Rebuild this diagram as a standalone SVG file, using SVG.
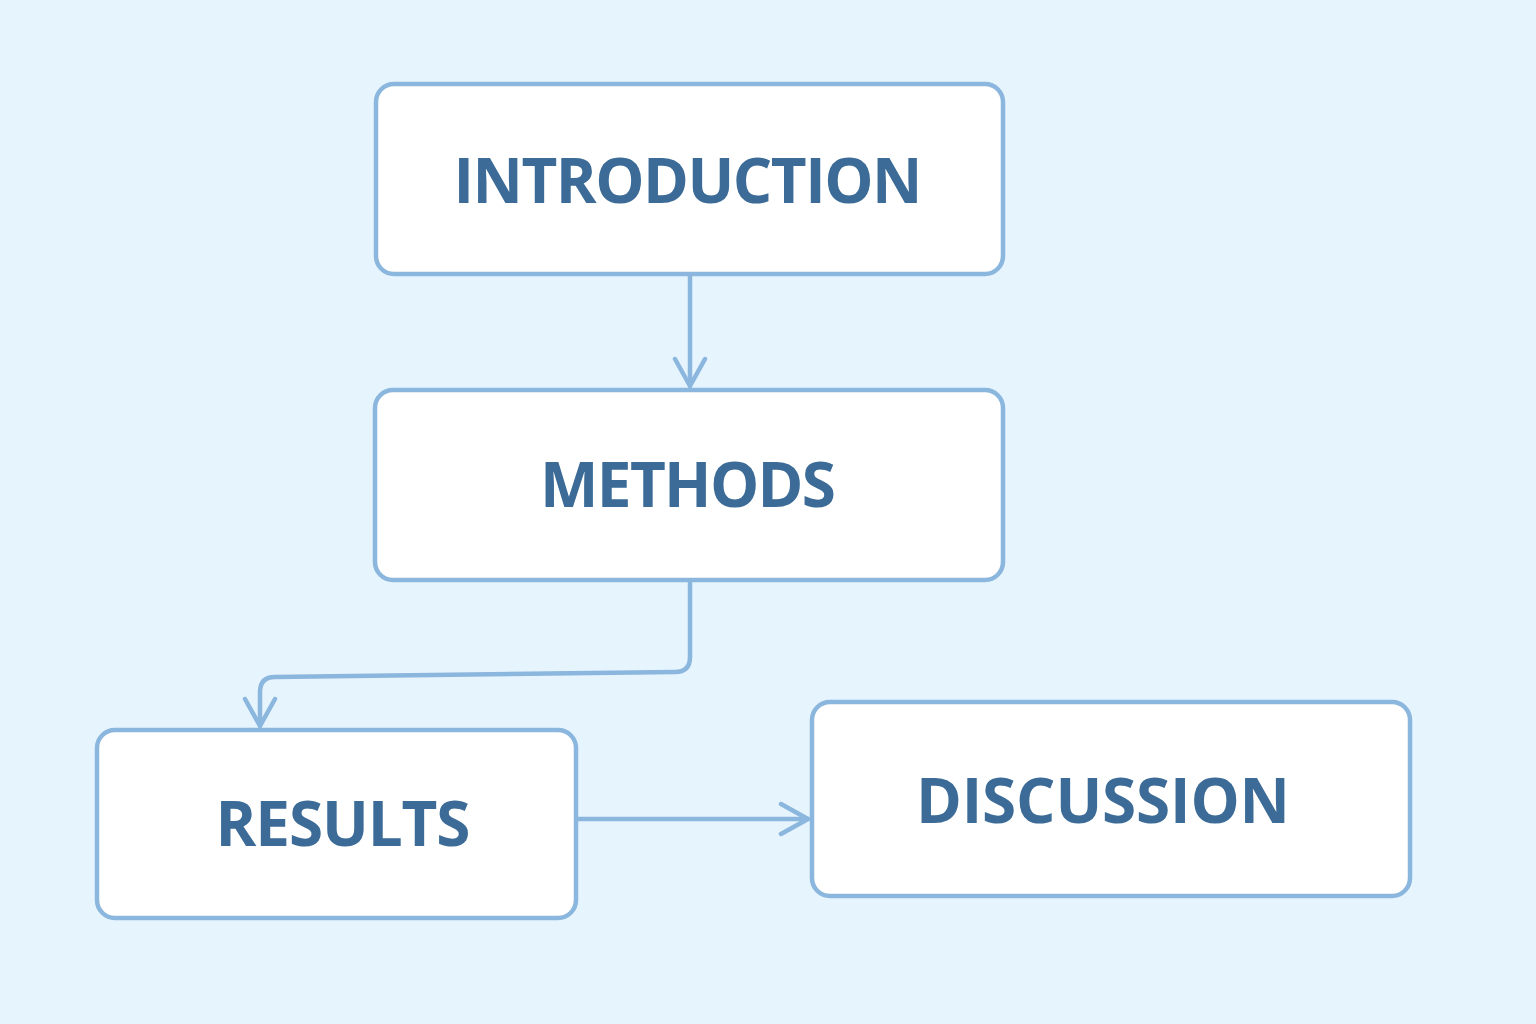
<svg xmlns="http://www.w3.org/2000/svg" width="1536" height="1024" viewBox="0 0 1536 1024">
<defs>
<style>
.box{fill:#ffffff;stroke:#8bb6dd;stroke-width:4.5}
.lbl{font-family:"Open Sans","Liberation Sans",sans-serif;font-weight:700;font-size:62px;fill:#3b6b96;text-anchor:middle}
.con{fill:none;stroke:#8bb6dd;stroke-width:4.5;stroke-linecap:round;stroke-linejoin:round}
</style>
<marker id="arr" viewBox="0 0 36 36" refX="32" refY="18" markerWidth="36" markerHeight="36" markerUnits="userSpaceOnUse" orient="auto">
<path d="M5,3 L32,18 L5,33" fill="none" stroke="#8bb6dd" stroke-width="4.5" stroke-linecap="round" stroke-linejoin="round"/>
</marker>
</defs>
<rect width="1536" height="1024" fill="#e6f4fd"/>
<g id="connectors">
<path class="con" d="M690,276 L690,386" marker-end="url(#arr)"/>
<path class="con" d="M690,582 L690,657 Q690,672 675,672 L275,677 Q260,677 260,692 L260,726" marker-end="url(#arr)"/>
<path class="con" d="M578,819 L808,819" marker-end="url(#arr)"/>
</g>
<g id="introduction">
<rect class="box" x="376" y="84" width="627" height="190" rx="18"/>
<text class="lbl" x="688" y="203" textLength="469" lengthAdjust="spacing">INTRODUCTION</text>
</g>
<g id="methods">
<rect class="box" x="375" y="390" width="628" height="190" rx="18"/>
<text class="lbl" x="688" y="507" textLength="296" lengthAdjust="spacing">METHODS</text>
</g>
<g id="results">
<rect class="box" x="97" y="730" width="479" height="188" rx="18"/>
<text class="lbl" x="343" y="846" textLength="255" lengthAdjust="spacing">RESULTS</text>
</g>
<g id="discussion">
<rect class="box" x="812" y="702" width="598" height="194" rx="18"/>
<text class="lbl" x="1103" y="823" textLength="374" lengthAdjust="spacing">DISCUSSION</text>
</g>
</svg>
